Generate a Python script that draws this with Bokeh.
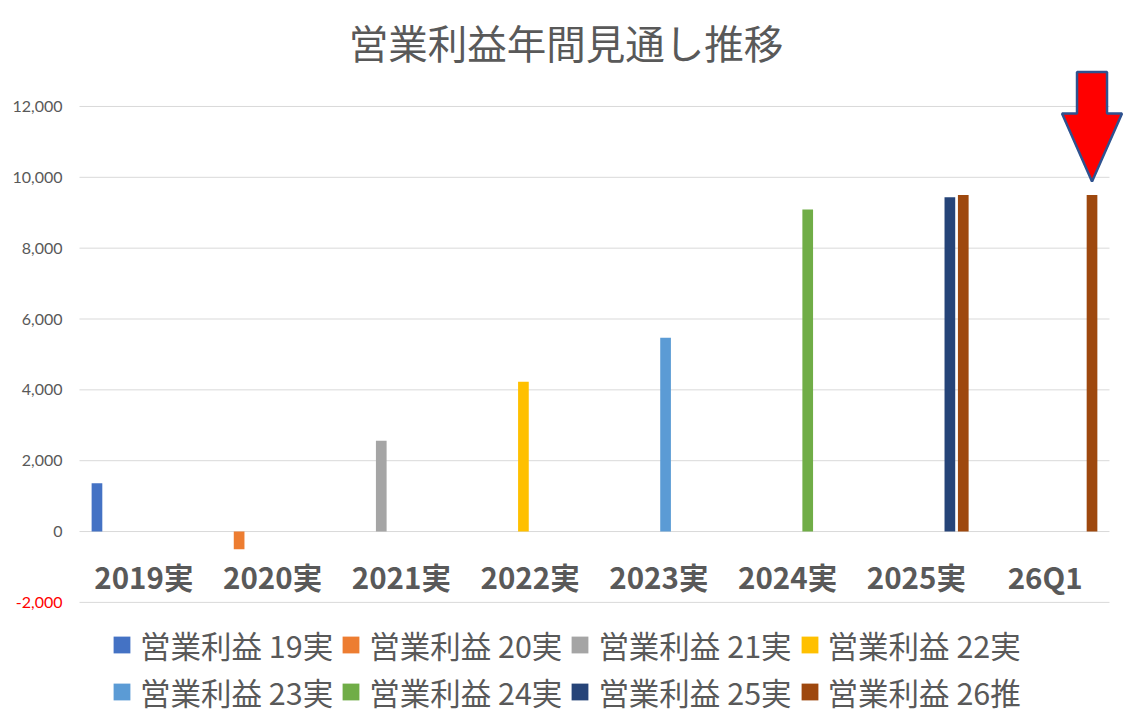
from bokeh.plotting import figure
from bokeh.models import ColumnDataSource, Legend, LegendItem
from bokeh.core.properties import value
from bokeh.embed import file_html
from bokeh.resources import INLINE

# ---------------- data ----------------
categories = ["2019実", "2020実", "2021実", "2022実", "2023実", "2024実", "2025実", "26Q1"]
series_names = ["営業利益 19実", "営業利益 20実", "営業利益 21実", "営業利益 22実",
                "営業利益 23実", "営業利益 24実", "営業利益 25実", "営業利益 26推"]
op_19 = [1360, None, None, None, None, None, None, None]
op_20 = [None, -500, None, None, None, None, None, None]
op_21 = [None, None, 2560, None, None, None, None, None]
op_22 = [None, None, None, 4230, None, None, None, None]
op_23 = [None, None, None, None, 5470, None, None, None]
op_24 = [None, None, None, None, None, 9090, None, None]
op_25 = [None, None, None, None, None, None, 9440, None]
op_26 = [None, None, None, None, None, None, 9500, 9500]
series_values = [op_19, op_20, op_21, op_22, op_23, op_24, op_25, op_26]
colors = ["#4472C4", "#ED7D31", "#A5A5A5", "#FFC000",
          "#5B9BD5", "#70AD47", "#264478", "#9E480E"]
y_ticks = [-2000, 0, 2000, 4000, 6000, 8000, 10000, 12000]
y_tick_labels = ["-2,000", "0", "2,000", "4,000", "6,000", "8,000", "10,000", "12,000"]
title_text = "営業利益年間見通し推移"

# ---------------- styling constants ----------------
JP = "Noto Sans CJK JP"
TXT = "#595959"
STEP = 0.1041        # distance between series bars inside a category
BAR_W = 0.083
n_series = len(series_names)
n_cat = len(categories)

p = figure(frame_width=1131, frame_height=658,
           x_range=(-1.1136, 7.671), y_range=(-5532, 13044),
           output_backend="svg", toolbar_location=None,
           x_axis_location=None, y_axis_location=None,
           min_border_left=0, min_border_right=0, min_border_top=69,
           min_border_bottom=0)
p.outline_line_color = None
p.xgrid.visible = False
p.ygrid.visible = False
p.background_fill_color = "white"
p.border_fill_color = "white"

# title
p.title.text = title_text
p.title.align = "center"
p.title.standoff = 0
p.title.text_font = JP
p.title.text_font_size = "39.5px"
p.title.text_font_style = "normal"
p.title.text_color = TXT

# gridlines (from tick values)
p.segment(x0=[-0.5] * len(y_ticks), x1=[n_cat - 0.5] * len(y_ticks),
          y0=y_ticks, y1=y_ticks, line_color="#D9D9D9", line_width=1)

# y tick labels (negative numbers shown in red, Excel style)
p.text(x=[-0.5 - 17 / 128.75] * len(y_ticks), y=y_ticks, text=y_tick_labels,
       text_align="right", text_baseline="middle", text_font=value("Lato"),
       text_font_size="16px",
       text_color=["#FF0000" if t < 0 else TXT for t in y_ticks])

# bars
renderers = []
for j, (name, vals, col) in enumerate(zip(series_names, series_values, colors)):
    xs, tops = [], []
    for i, v in enumerate(vals):
        if v is not None:
            xs.append(i + (j - (n_series - 1) / 2) * STEP)
            tops.append(v)
    src = ColumnDataSource(dict(x=xs, top=tops))
    r = p.vbar(x="x", top="top", bottom=0, width=BAR_W, source=src,
               fill_color=col, line_color=None)
    renderers.append(r)

# category labels
p.text(x=list(range(n_cat)), y=[-1245] * n_cat, text=categories,
       text_align="center", text_baseline="middle", text_font=value(JP),
       text_font_size="29.5px", text_font_style="bold", text_color=TXT)

# arrow pointing at the last forecast bar
ai = n_cat - 1
ax_x = ai + (n_series - 1 - (n_series - 1) / 2) * STEP
tip = op_26[ai] + 380
head_top = tip + 1920
shaft_top = head_top + 1170
hw, sw = 0.233, 0.1165
p.patch(x=[ax_x, ax_x - hw, ax_x - sw, ax_x - sw, ax_x + sw, ax_x + sw, ax_x + hw],
        y=[tip, head_top, head_top, shaft_top, shaft_top, head_top, head_top],
        fill_color="#FF0000", line_color="#2F528F", line_width=2.5)

# legends (two rows, below the category labels)
items = [LegendItem(label=n, renderers=[r]) for n, r in zip(series_names, renderers)]
for k, ypos in enumerate([60, 13]):
    lg = Legend(items=items[4 * k:4 * k + 4], orientation="horizontal",
                location=(111, ypos), padding=0, margin=0, spacing=7,
                glyph_width=21, glyph_height=21, label_standoff=8,
                label_height=45, border_line_color=None, background_fill_alpha=0,
                label_text_font=JP, label_text_font_size="30.5px",
                label_text_color=TXT, label_text_baseline="middle")
    p.add_layout(lg, "center")

open("out.html", "w").write(file_html(p, INLINE))
